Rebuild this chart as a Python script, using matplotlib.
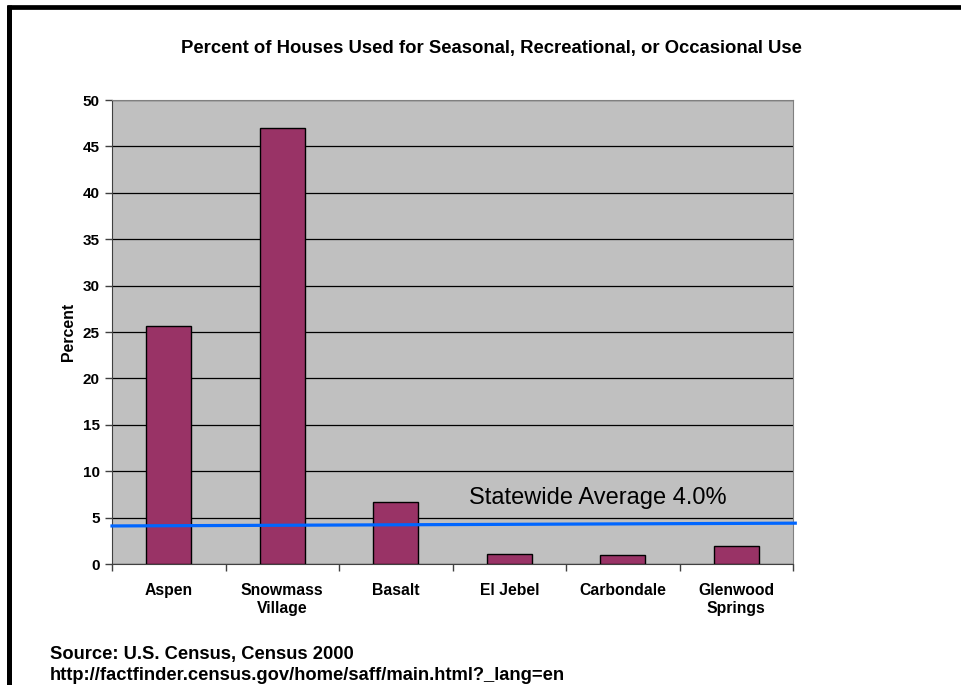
import matplotlib
matplotlib.use("Agg")
import matplotlib.pyplot as plt
from matplotlib.lines import Line2D

# data
towns = ["Aspen", "Snowmass\nVillage", "Basalt", "El Jebel", "Carbondale", "Glenwood\nSprings"]
percent_seasonal = [25.7, 47.0, 6.7, 1.1, 1.0, 1.9]
y_ticks = [0, 5, 10, 15, 20, 25, 30, 35, 40, 45, 50]
statewide_avg = 4.0
# the hand-drawn average line is slightly tilted in the original
avg_line_ends = [4.1, 4.4]

title = "Percent of Houses Used for Seasonal, Recreational, or Occasional Use"
source_lines = ["Source: U.S. Census, Census 2000",
                "http://factfinder.census.gov/home/saff/main.html?_lang=en"]

plt.rcParams["font.family"] = ["Liberation Sans", "DejaVu Sans"]

W, H = 961, 685
fig = plt.figure(figsize=(W / 100, H / 100), dpi=100)

# plot area in pixel coords of the reference
left, right, top, bottom = 112, 793, 100, 564
ax = fig.add_axes([left / W, 1 - bottom / H, (right - left) / W, (bottom - top) / H])
ax.set_facecolor("#C0C0C0")

x = list(range(len(towns)))
ax.bar(x, percent_seasonal, width=0.4, color="#993366", edgecolor="black", linewidth=1.0, zorder=3)

ax.set_xlim(-0.5, len(towns) - 0.5)
ax.set_ylim(0, 50)
ax.set_yticks(y_ticks)
ax.set_yticklabels([str(t) for t in y_ticks], fontsize=11, fontweight="bold")
ax.yaxis.grid(True, color="black", linewidth=0.9, zorder=1)
ax.set_axisbelow(True)

# category labels centred, ticks on category boundaries
ax.set_xticks(x)
ax.set_xticklabels(towns, fontsize=11.3, fontweight="bold", linespacing=1.25)
ax.tick_params(axis="x", length=0, pad=14)
ax.set_xticks([i - 0.5 for i in range(len(towns) + 1)], minor=True)
ax.tick_params(axis="x", which="minor", length=5, width=1, color="#404040")
ax.tick_params(axis="y", length=5, width=1, color="#404040", pad=4)

for side in ["top", "right"]:
    ax.spines[side].set_color("#808080")
for side in ["left", "bottom"]:
    ax.spines[side].set_color("#404040")

ax.set_ylabel("Percent", fontsize=11.4, fontweight="bold", labelpad=5)

# statewide average line, drawn a touch past the plot edges
ax.plot([-0.5, len(towns) - 0.48], avg_line_ends, color="#0066FF", linewidth=2.3,
        zorder=4, clip_on=False)
ax.text(3.78, 7.1, f"Statewide Average {statewide_avg:.1f}%", fontsize=17,
        ha="center", va="center", zorder=5)

fig.text(491 / W, 1 - 48 / H, title, fontsize=13.3, fontweight="bold", ha="center", va="center")
fig.text(50 / W, 1 - 655 / H, source_lines[0], fontsize=13.2, fontweight="bold", va="center")
fig.text(50 / W, 1 - 675 / H, source_lines[1], fontsize=13.2, fontweight="bold", va="center")

# black frame along the left and top edges
fig.add_artist(Line2D([9.2 / W, 9.2 / W], [0, 1 - 4.7 / H], color="black", linewidth=3.6,
                      solid_capstyle="butt"))
fig.add_artist(Line2D([6.7 / W, 1], [1 - 7 / H, 1 - 7 / H], color="black", linewidth=3.4,
                      solid_capstyle="butt"))

fig.savefig("out.png", dpi=100)
